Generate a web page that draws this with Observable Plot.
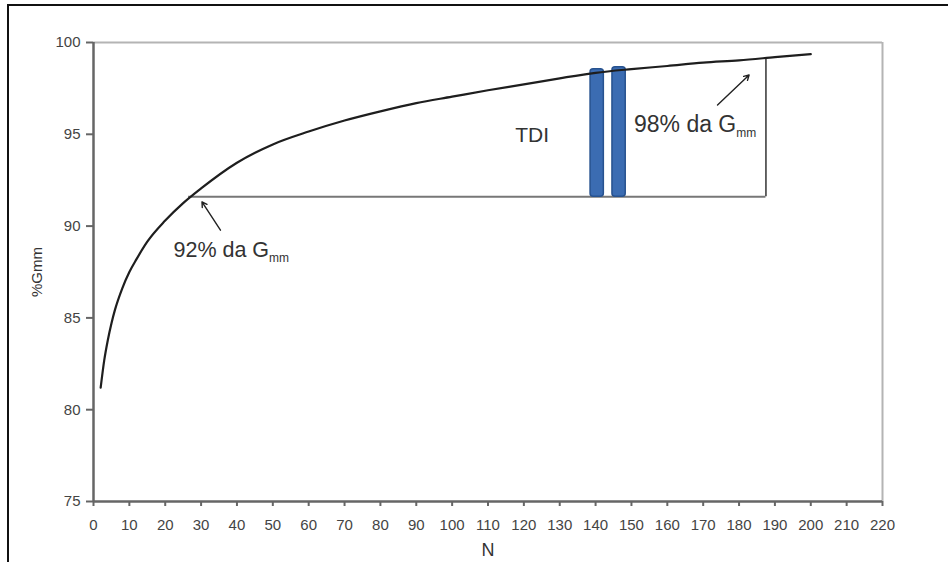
<!DOCTYPE html>
<html>
<head>
<meta charset="utf-8">
<script src="https://cdn.jsdelivr.net/npm/d3@7"></script>
<script src="https://cdn.jsdelivr.net/npm/@observablehq/plot@0.6"></script>
<style>
  html, body { margin: 0; padding: 0; background: #fff; overflow: hidden; }
  #wrap { position: relative; width: 948px; height: 562px; }
  #frame { position: absolute; left: 7px; top: 4px; width: 960px; height: 600px;
           border-top: 2px solid #111; border-left: 2px solid #111; pointer-events: none; }
  svg { font-family: "Liberation Sans", Arial, sans-serif; }
</style>
</head>
<body>
<div id="wrap"><div id="frame"></div></div>
<script>
// Compaction curve (%Gmm vs number of gyrations N)
const N   = [2, 3, 4, 5, 6, 8, 10, 12, 15, 20, 25, 30, 40, 50, 60, 70, 80, 90, 100, 110, 120, 130, 140, 150, 160, 170, 180, 190, 200];
const gmm = [81.2, 82.7, 83.8, 84.7, 85.45, 86.6, 87.5, 88.2, 89.15, 90.3, 91.25, 92.05, 93.45, 94.45, 95.15, 95.75, 96.25, 96.7, 97.05, 97.4, 97.72, 98.05, 98.35, 98.55, 98.72, 98.9, 99.03, 99.2, 99.37];

// Axis ticks
const xTicks = [0, 10, 20, 30, 40, 50, 60, 70, 80, 90, 100, 110, 120, 130, 140, 150, 160, 170, 180, 190, 200, 210, 220];
const yTicks = [75, 80, 85, 90, 95, 100];

// TDI box (92% line from curve to N at 98%)
const boxLevel = 91.6;
const boxStartN = 26.5;
const boxEndN = 187.5;
const boxEndTop = 99.14;

// TDI bars
const barX1 = [138.6, 144.7];
const barX2 = [142.3, 148.4];
const barTop = [98.54, 98.65];

// Annotations
const labelN = [22.3, 150.7];
const labelV = [88.32, 95.14];
const labelBase = ["92% da G", "98% da G"];
const labelSub = ["mm", "mm"];
const labelSize = [21.5, 23];
const arrowFromN = [35.4, 174];
const arrowFromV = [89.78, 96.59];
const arrowToN = [30.25, 182.8];
const arrowToV = [91.32, 98.23];
const tdiText = ["TDI"];
const tdiN = [122.3];
const tdiV = [94.56];

const curve = N.map((n, i) => ({N: n, v: gmm[i]}));
const bars = barX1.map((x, i) => ({x1: x, x2: barX2[i], top: barTop[i]}));
const labels = labelN.map((n, i) => ({N: n, v: labelV[i], base: labelBase[i], sub: labelSub[i], size: labelSize[i]}));
const arrows = arrowFromN.map((n, i) => ({x1: n, y1: arrowFromV[i], x2: arrowToN[i], y2: arrowToV[i]}));
const tdi = tdiText.map((t, i) => ({t, N: tdiN[i], v: tdiV[i]}));

const plot = Plot.plot({
  width: 948,
  height: 562,
  marginLeft: 93,
  marginRight: 66,
  marginTop: 42,
  marginBottom: 61,
  style: {fontFamily: "'Liberation Sans', Arial, sans-serif", background: "transparent"},
  x: {domain: [0, 220]},
  y: {domain: [75, 100]},
  marks: [
    Plot.ruleY([100], {stroke: "#b4b4b4", strokeWidth: 2}),
    Plot.ruleX([220], {stroke: "#b4b4b4", strokeWidth: 2}),
    Plot.axisX({ticks: xTicks, tickSize: 5, tickPadding: 13, fontSize: 15, color: "#444", stroke: "#666", strokeWidth: 2,
                label: "N", labelArrow: "none", labelAnchor: "center", labelOffset: 54}),
    Plot.axisY({ticks: yTicks, tickSize: 7, tickPadding: 6, fontSize: 15, color: "#444", stroke: "#666", strokeWidth: 2,
                label: "%Gmm", labelArrow: "none", labelAnchor: "center", labelOffset: 62}),
    Plot.ruleX([0], {stroke: "#666", strokeWidth: 2.5}),
    Plot.ruleY([75], {stroke: "#666", strokeWidth: 2.5}),
    Plot.ruleY([boxLevel], {x1: boxStartN, x2: boxEndN, stroke: "#777", strokeWidth: 2}),
    Plot.ruleX([boxEndN], {y1: boxLevel, y2: boxEndTop, stroke: "#333", strokeWidth: 1.5}),
    Plot.rect(bars, {x1: "x1", x2: "x2", y1: boxLevel, y2: "top", fill: "#3b6cb2", stroke: "#27528f", strokeWidth: 1.5, rx: 3}),
    Plot.line(curve, {x: "N", y: "v", curve: "monotone-x", stroke: "#1e1e1e", strokeWidth: 2.2}),
    Plot.arrow(arrows, {x1: "x1", y1: "y1", x2: "x2", y2: "y2", stroke: "#222", strokeWidth: 1.4, headLength: 6}),
    Plot.text(tdi, {x: "N", y: "v", text: "t", fontSize: 21, fill: "#333", textAnchor: "middle", lineAnchor: "bottom"}),
    Plot.text(labels, {x: "N", y: "v", text: "base", fontSize: "size", fill: "#333", textAnchor: "start", lineAnchor: "bottom", className: "gmmlabel"})
  ]
});

d3.select(plot).selectAll(".gmmlabel text").each(function(d, i) {
  const lab = labels[i];
  d3.select(this).append("tspan").attr("font-size", 12).attr("dy", 5).text(lab.sub);
});
// enlarge axis titles
d3.select(plot).selectAll('g[aria-label="x-axis label"], g[aria-label="x-axis label"] text').attr("font-size", 18).attr("fill", "#333");
d3.select(plot).selectAll('g[aria-label="y-axis label"], g[aria-label="y-axis label"] text').attr("font-size", 15).attr("fill", "#333");

document.getElementById("wrap").insertBefore(plot, document.getElementById("frame"));
plot.style.position = "absolute";
plot.style.left = "0";
plot.style.top = "0";
</script>
</body>
</html>
